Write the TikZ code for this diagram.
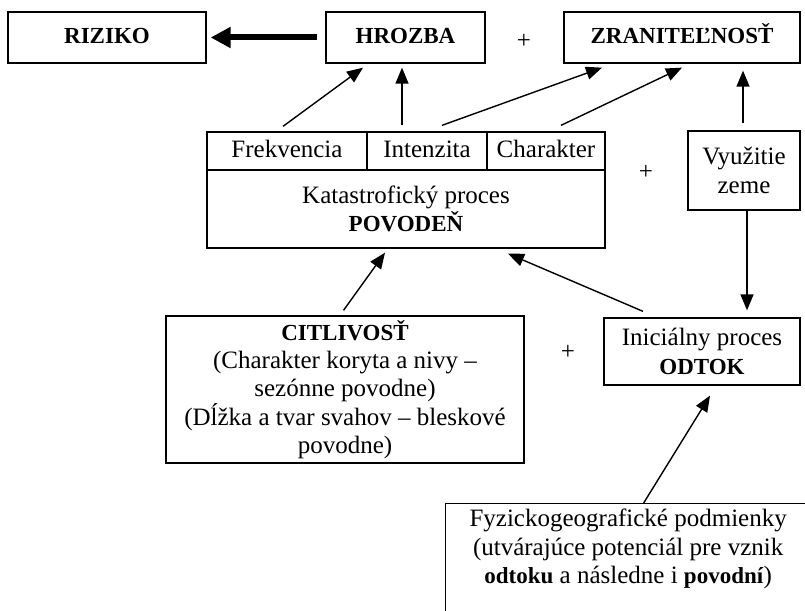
\documentclass[tikz,border=0pt]{standalone}
\usepackage{fontspec}
\setmainfont{Liberation Serif}
\usetikzlibrary{arrows.meta,calc}
\newcommand{\bt}[1]{{\fontsize{23}{28}\selectfont\textbf{#1}}}
\begin{document}
\begin{tikzpicture}[x=1pt,y=-1pt,
  every node/.style={font=\fontsize{25}{28.3}\selectfont},
  box/.style={draw, line width=1.3pt, align=center, inner sep=0pt},
  one/.style={text height=17pt, text depth=5pt},
  con/.style={line width=1.4pt, -{Triangle[length=16pt,width=13pt]}},
  bigcon/.style={line width=6pt, -{Triangle[length=20pt,width=20pt]}},
  plus/.style={inner sep=0pt}]
\path[use as bounding box, clip] (0,0) rectangle (805,610);
\fill[white] (0,0) rectangle (805,610);

% top row
\node[box, one, minimum width=198pt, minimum height=51pt] (riziko) at (107,37.5) {\bt{RIZIKO}};
\node[box, one, minimum width=159pt, minimum height=51pt] (hrozba) at (405.5,37.5) {\bt{HROZBA}};
\node[plus] (p1) at (524,41) {+};
\node[box, one, minimum width=236pt, minimum height=51pt] (zran) at (682,37.5) {\bt{ZRANITEĽNOSŤ}};

% flood process
\node[box, one, minimum width=160pt, minimum height=38pt] (freq) at (287,151) {Frekvencia};
\node[box, one, minimum width=120pt, minimum height=38pt] (inten) at (427,151) {Intenzita};
\node[box, one, minimum width=118pt, minimum height=38pt] (charak) at (546,151) {Charakter};
\node[box, minimum width=398pt, minimum height=78pt] (povoden) at (406,209) {Katastrofický proces\\\bt{POVODEŇ}};
\node[plus] (p2) at (646,172) {+};
\node[box, minimum width=112pt, minimum height=79pt] (vyuz) at (744,170.5) {Využitie\\zeme};

% lower row
\node[box, minimum width=358pt, minimum height=147pt] (citliv) at (345,389.5) {\bt{CITLIVOSŤ}\\(Charakter koryta a nivy –\\sezónne povodne)\\(Dĺžka a tvar svahov – bleskové\\povodne)};
\node[plus] (p3) at (568,352) {+};
\node[box, minimum width=196pt, minimum height=67pt] (odtok) at (702,351.5) {Iniciálny proces\\\bt{ODTOK}};

% bottom box
\node[box, minimum width=365pt, minimum height=115pt, anchor=north west] (fyz) at (445,503) {};
\node[align=center, inner sep=0pt, anchor=north] (fyztext) at ($(fyz.north)+(0,6)$) {Fyzickogeografické podmienky\\(utvárajúce potenciál pre vznik\\\bt{odtoku} a následne i \bt{povodní})};

% connectors
\draw[bigcon] ($(hrozba.west)+(-8,0)$) -- ($(riziko.east)+(4,0)$);
\draw[con] ($(freq.north)+(-4,-5)$) -- ($(hrozba.south)+(-42.5,4)$);
\draw[con] ($(inten.north)+(-25,-6)$) -- ($(hrozba.south)+(-3.5,4)$);
\draw[con] ($(inten.north)+(15,-6)$) -- ($(zran.south)+(-80,4)$);
\draw[con] ($(charak.north)+(15,-6)$) -- ($(zran.south)+(0,4)$);
\draw[con] ($(vyuz.north)+(-1,-7)$) -- ($(zran.south)+(61,7)$);
\draw[con] ($(vyuz.south)+(3,0)$) -- ($(odtok.north)+(45,-7)$);
\draw[con] ($(citliv.north)+(-1.5,-5)$) -- ($(povoden.south)+(-21,4)$);
\draw[con] ($(odtok.north)+(-59,-6)$) -- ($(povoden.south)+(102,5)$);
\draw[con] ($(fyz.north)+(15.5,0)$) -- ($(odtok.south)+(8,10)$);
\end{tikzpicture}
\end{document}
